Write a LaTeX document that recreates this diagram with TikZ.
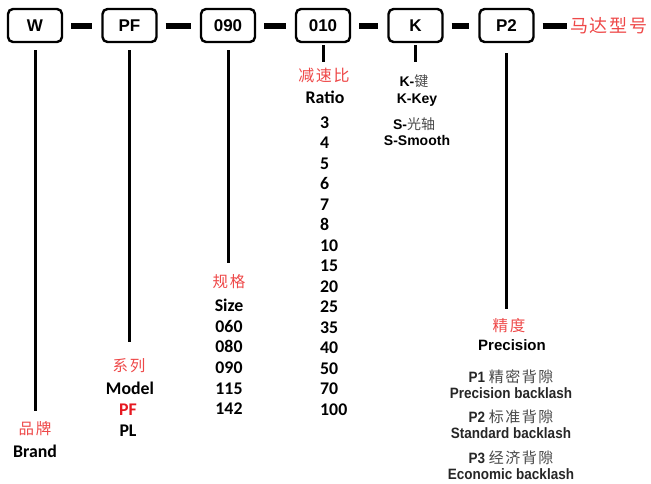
\documentclass[tikz,border=0pt]{standalone}
\usepackage{fontspec}
\setmainfont{Carlito}
\newfontfamily\arialfont{Liberation Sans}
\newfontfamily\narrowfont[FakeStretch=0.9]{Liberation Sans}
\newfontfamily\cjk{Noto Sans CJK SC}
\newfontfamily\cjkwide[LetterSpace=10]{Noto Sans CJK SC}
\definecolor{cnred}{RGB}{238,72,72}
\definecolor{pfred}{RGB}{230,24,32}
\definecolor{cngray}{RGB}{72,72,72}
\tikzstyle{box}=[draw=black,line width=2.4pt,rounded corners=5pt,minimum width=54pt,minimum height=33pt,inner sep=0pt,font=\arialfont\bfseries\fontsize{17}{17}\selectfont]
\tikzstyle{bar}=[line width=6pt,shorten <=8pt,shorten >=9pt]
\tikzstyle{stem}=[line width=3pt]
\tikzstyle{cn}=[text=cnred,font=\cjkwide\fontsize{15.5}{15.5}\selectfont,inner sep=0pt,anchor=base]
\tikzstyle{lbl}=[font=\bfseries\fontsize{17.8}{17.8}\selectfont,inner sep=0pt,anchor=base]
\tikzstyle{opt}=[font=\arialfont\bfseries\fontsize{14}{14}\selectfont,inner sep=0pt,anchor=base]
\tikzstyle{back}=[font=\narrowfont\bfseries\fontsize{15}{15}\selectfont,inner sep=0pt,anchor=base,text=black!85]

\begin{document}
\begin{tikzpicture}[x=1pt,y=-1pt]
	\useasboundingbox (0,0) rectangle (651,483);
	%boxes
	\foreach \n/\t/\x in {brand/W/35,model/PF/129.5,size/090/228,ratio/010/323,shaft/K/415.5,prec/P2/506.5}
	\node[box] (\n) at (\x,25.5) {\t};
	\node[cn,anchor=west,font=\cjkwide\fontsize{18}{18}\selectfont] (motor) at (570,25.5) {马达型号};
	%bars
	\foreach \a/\b in {brand/model,model/size,size/ratio,ratio/shaft,shaft/prec}
	\draw[bar] (\a) -- (\b);
	\draw[bar,shorten >=3pt] (prec) -- (motor);
	%stems
	\coordinate (brand end) at (35,411);
	\coordinate (model end) at (129.5,342);
	\coordinate (size end) at (228,263);
	\coordinate (ratio end) at (323,62);
	\coordinate (shaft end) at (415.5,62);
	\coordinate (prec end) at (506.5,309);
	\draw[stem,shorten <=7pt] (brand) -- (brand end);
	\draw[stem,shorten <=7pt] (model) -- (model end);
	\draw[stem,shorten <=7pt] (size) -- (size end);
	\draw[stem,shorten <=2pt] (ratio) -- (ratio end);
	\draw[stem,shorten <=2pt] (shaft) -- (shaft end);
	\draw[stem,shorten <=10pt] (prec) -- (prec end);
	%brand
	\node[cn] (brand cn) at (35,434) {品牌};
	\node[lbl] (brand en) at (35,457) {Brand};
	%model
	\node[cn] (model cn) at (129,371) {系列};
	\node[lbl] (model en) at (130,394) {Model};
	\node[lbl,text=pfred] (model pf) at (128,415) {PF};
	\node[lbl] (model pl) at (128,436) {PL};
	%size
	\node[cn] (size cn) at (229,287) {规格};
	\node[lbl] (size en) at (229,311) {Size};
	\foreach \s [count=\i from 0] in {060,080,090,115,142}
	\node[lbl] (size \i) at (229,{332+20.7*\i}) {\s};
	%ratio
	\node[cn,font=\cjkwide\fontsize{16}{16}\selectfont] (ratio cn) at (324,81) {减速比};
	\node[lbl] (ratio en) at (325,103) {Ratio};
	\foreach \r [count=\i from 0] in {3,4,5,6,7,8,10,15,20,25,35,40,50,70,100}
	\node[lbl,anchor=base west] (ratio \i) at (320,{128+20.5*\i}) {\r};
	%shaft
	\node[opt] (shaft k) at (414,86) {K-{\cjk\mdseries\color{cngray}键}};
	\node[opt] (shaft key) at (417,103) {K-Key};
	\node[opt] (shaft s) at (414,129) {S-{\cjk\mdseries\color{cngray}光轴}};
	\node[opt] (shaft smooth) at (417,145) {S-Smooth};
	%precision
	\node[cn] (prec cn) at (509,331) {精度};
	\node[opt,font=\arialfont\bfseries\fontsize{15}{15}\selectfont] (prec en) at (512,350) {Precision};
	\foreach \p/\c/\e [count=\i from 0] in {P1/精密背隙/Precision backlash,P2/标准背隙/Standard backlash,P3/经济背隙/Economic backlash}
	{
		\node[back] (prec \p) at (511,{382+40.5*\i}) {\p\ {\cjkwide\mdseries\color{cngray}\c}};
		\node[back] (prec \p en) at (511,{398+40.5*\i}) {\e};
	}
\end{tikzpicture}
\end{document}
